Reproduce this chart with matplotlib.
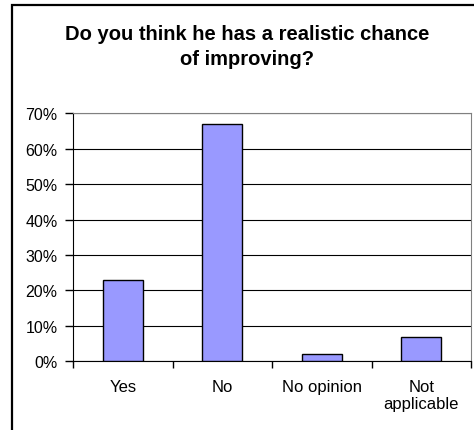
import matplotlib.pyplot as plt
from matplotlib.patches import Rectangle
from matplotlib.ticker import FixedLocator, PercentFormatter

plt.rcParams['font.family'] = ['Liberation Sans', 'DejaVu Sans']

categories = ['Yes', 'No', 'No opinion', 'Not\napplicable']
shares = [23, 67, 2, 7]
y_ticks = [0, 10, 20, 30, 40, 50, 60, 70]

fig = plt.figure(figsize=(4.74, 4.31), dpi=100)

# outer chart frame (right and bottom edges fall off the picture)
fig.patches.append(Rectangle((12 / 474, -0.05), 1.1, 1 - 6 / 431 + 0.05,
                             transform=fig.transFigure, fill=False,
                             edgecolor='black', linewidth=1.6))

ax = fig.add_axes([73 / 474, 1 - 362.3 / 431, 398 / 474, 248 / 431])

x = range(len(categories))
ax.bar(x, shares, width=0.4, color='#9999FF', edgecolor='black', linewidth=1, zorder=3)

ax.set_xlim(-0.5, len(categories) - 0.5)
ax.set_ylim(0, 70)
ax.set_yticks(y_ticks)
ax.yaxis.set_major_formatter(PercentFormatter(decimals=0))
ax.yaxis.grid(True, color='black', linewidth=0.8, zorder=0)

ax.set_xticks(list(x))
ax.set_xticklabels(categories, fontsize=12, linespacing=1.15)
ax.xaxis.set_minor_locator(FixedLocator([i - 0.5 for i in range(len(categories) + 1)]))
ax.tick_params(axis='x', which='major', length=0, pad=13)
ax.tick_params(axis='x', which='minor', length=5, width=1)
ax.tick_params(axis='y', length=6, width=1, pad=5, labelsize=11.5)

ax.spines['left'].set_color('black')
ax.spines['bottom'].set_color('black')
ax.spines['top'].set_color('#808080')
ax.spines['right'].set_color('#808080')

fig.text(0.521, 1 - 25 / 431, 'Do you think he has a realistic chance\nof improving?',
         ha='center', va='top', fontsize=14.5, fontweight='bold', linespacing=1.38)

fig.savefig('out.png', dpi=100)
